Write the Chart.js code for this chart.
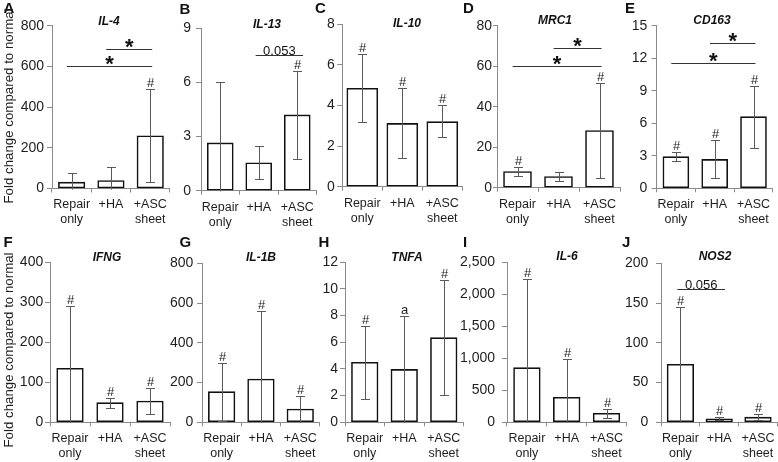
<!DOCTYPE html>
<html><head><meta charset="utf-8">
<script src="https://cdn.jsdelivr.net/npm/chart.js@4.4.1/dist/chart.umd.min.js"></script>
<style>
html,body{margin:0;padding:0;background:#fff;}
#wrap{position:relative;width:778px;height:462px;overflow:hidden;background:#fff;}
#wrap canvas{position:absolute;left:0;top:0;}
</style></head><body><div id="wrap"></div>
<script>
// ---------- data ----------
const categories = [["Repair", "only"], ["+HA"], ["+ASC", "sheet"]];
const yTitle = "Fold change compared to normal";

// A  IL-4
const il4Mean = [31, 39, 259];
const il4Low = [-13, -26, 30];
const il4High = [75, 104, 488];
const il4Marks = ["", "", "#"];
const il4Ticks = [0, 200, 400, 600, 800];
const il4Sig = [[1, 2, 686, "*"], [0, 2, 602, "*"]];

// B  IL-13
const il13Mean = [2.65, 1.55, 4.2];
const il13Low = [-0.7, 0.65, 1.75];
const il13High = [6.0, 2.45, 6.65];
const il13Marks = ["", "", "#"];
const il13Ticks = [0, 3, 6, 9];
const il13Sig = [[1, 2, 7.52, "0.053"]];

// C  IL-10
const il10Mean = [4.84, 3.11, 3.2];
const il10Low = [3.18, 1.4, 2.42];
const il10High = [6.52, 4.87, 4.0];
const il10Marks = ["#", "#", "#"];
const il10Ticks = [0, 2, 4, 6, 8];
const il10Sig = [];

// D  MRC1
const mrc1Mean = [8.0, 5.5, 28.2];
const mrc1Low = [5.8, 3.5, 5.0];
const mrc1High = [10.4, 7.6, 51.5];
const mrc1Marks = ["#", "", "#"];
const mrc1Ticks = [0, 20, 40, 60, 80];
const mrc1Sig = [[1, 2, 69.1, "*"], [0, 2, 60.2, "*"]];

// E  CD163
const cd163Mean = [2.92, 2.67, 6.61];
const cd163Low = [2.55, 0.92, 3.69];
const cd163High = [3.38, 4.46, 9.47];
const cd163Marks = ["#", "#", "#"];
const cd163Ticks = [0, 3, 6, 9, 12, 15];
const cd163Sig = [[1, 2, 13.43, "*"], [0, 2, 11.59, "*"]];

// F  IFNG
const ifngMean = [135, 49, 53];
const ifngLow = [-22, 36, 20];
const ifngHigh = [292, 62, 87];
const ifngMarks = ["#", "#", "#"];
const ifngTicks = [0, 100, 200, 300, 400];
const ifngSig = [];

// G  IL-1B
const il1bMean = [154, 218, 67];
const il1bLow = [8, -125, -2];
const il1bHigh = [300, 562, 132];
const il1bMarks = ["#", "#", "#"];
const il1bTicks = [0, 200, 400, 600, 800];
const il1bSig = [];

// H  TNFA
const tnfaMean = [4.5, 3.97, 6.35];
const tnfaLow = [1.75, -0.03, 2.05];
const tnfaHigh = [7.25, 7.97, 10.7];
const tnfaMarks = ["#", "a", "#"];
const tnfaTicks = [0, 2, 4, 6, 8, 10, 12];
const tnfaSig = [];

// I  IL-6
const il6Mean = [854, 391, 141];
const il6Low = [-526, -202, 68];
const il6High = [2234, 984, 214];
const il6Marks = ["#", "#", "#"];
const il6Ticks = [0, 500, 1000, 1500, 2000, 2500];
const il6Sig = [];

// J  NOS2
const nos2Mean = [73, 4.5, 6.5];
const nos2Low = [-0.5, 3, 3.2];
const nos2High = [145.5, 6.2, 10];
const nos2Marks = ["#", "#", "#"];
const nos2Ticks = [0, 50, 100, 150, 200];
const nos2Sig = [[0, 1, 167.3, "0.056"]];

// ---------- layout (positions / sizes only) ----------
const FONT = "'Liberation Sans', Arial, Helvetica, sans-serif";
const TXT = '#1e1e1e';
const AX = '#8a8a8a';

const panels = [
  {letter: 'A', gene: 'IL-4', mean: il4Mean, low: il4Low, high: il4High, marks: il4Marks, ticks: il4Ticks, sig: il4Sig,
   geo: {L: 52, W: 39.3, T: 25.7, B: 188.5, pad: 3, tl: 5, bar: 26.5, gx: 109, gy: 22, lx: 3.5, ly: 8.5, ty: 106}},
  {letter: 'B', gene: 'IL-13', mean: il13Mean, low: il13Low, high: il13High, marks: il13Marks, ticks: il13Ticks, sig: il13Sig,
   geo: {L: 201, W: 38.5, T: 28.3, B: 190.7, pad: 5, tl: 5, bar: 26, gx: 267, gy: 24.5, lx: 179.5, ly: 9.5}},
  {letter: 'C', gene: 'IL-10', mean: il10Mean, low: il10Low, high: il10High, marks: il10Marks, ticks: il10Ticks, sig: il10Sig,
   geo: {L: 342.3, W: 40, T: 24, B: 186.7, pad: 2.5, tl: 5, bar: 31, gx: 407, gy: 24, lx: 315, ly: 8.5}},
  {letter: 'D', gene: 'MRC1', mean: mrc1Mean, low: mrc1Low, high: mrc1High, marks: mrc1Marks, ticks: mrc1Ticks, sig: mrc1Sig,
   geo: {L: 497, W: 41, T: 25.7, B: 187.7, pad: 1, tl: 4, bar: 28, gx: 555, gy: 20.5, lx: 463, ly: 9}},
  {letter: 'E', gene: 'CD163', mean: cd163Mean, low: cd163Low, high: cd163High, marks: cd163Marks, ticks: cd163Ticks, sig: cd163Sig,
   geo: {L: 656.5, W: 38.8, T: 25.7, B: 188.3, pad: 4.2, tl: 5, bar: 26, gx: 712, gy: 20.5, lx: 625, ly: 8.7}},
  {letter: 'F', gene: 'IFNG', mean: ifngMean, low: ifngLow, high: ifngHigh, marks: ifngMarks, ticks: ifngTicks, sig: ifngSig,
   geo: {L: 50, W: 40, T: 262.3, B: 422.3, pad: 1.8, tl: 5, bar: 26.6, gx: 107, gy: 258, lx: 3.5, ly: 243, ty: 350}},
  {letter: 'G', gene: 'IL-1B', mean: il1bMean, low: il1bLow, high: il1bHigh, marks: il1bMarks, ticks: il1bTicks, sig: il1bSig,
   geo: {L: 202, W: 39.3, T: 263.3, B: 422.3, pad: 3.6, tl: 5, bar: 26.6, gx: 261, gy: 258, lx: 179.5, ly: 243}},
  {letter: 'H', gene: 'TNFA', mean: tnfaMean, low: tnfaLow, high: tnfaHigh, marks: tnfaMarks, ticks: tnfaTicks, sig: tnfaSig,
   geo: {L: 345, W: 39.5, T: 262.3, B: 422.3, pad: 2, tl: 5, bar: 26.6, gx: 407, gy: 258, lx: 318.5, ly: 243}},
  {letter: 'I', gene: 'IL-6', mean: il6Mean, low: il6Low, high: il6High, marks: il6Marks, ticks: il6Ticks, sig: il6Sig,
   geo: {L: 507, W: 39.8, T: 262.3, B: 422.3, pad: 7, tl: 5, bar: 26.7, gx: 567, gy: 257, lx: 463, ly: 243}},
  {letter: 'J', gene: 'NOS2', mean: nos2Mean, low: nos2Low, high: nos2High, marks: nos2Marks, ticks: nos2Ticks, sig: nos2Sig,
   geo: {L: 661, W: 38.8, T: 263.3, B: 422.3, pad: 7.6, tl: 5, bar: 26.6, gx: 715, gy: 257, lx: 622, ly: 243}}
];

function makeChart(p, idx) {
  const g = p.geo;
  const cv = document.createElement('canvas');
  cv.width = 778; cv.height = 462;
  cv.style.width = '778px'; cv.style.height = '462px';
  document.getElementById('wrap').appendChild(cv);
  const xH = 42;
  const R = g.L + 3 * g.W;
  const ymax = p.ticks[p.ticks.length - 1];
  const step = p.ticks[1] - p.ticks[0];

  const annot = {
    id: 'annot' + idx,
    afterDatasetsDraw(chart) {
      const ctx = chart.ctx, xs = chart.scales.x, ys = chart.scales.y;
      ctx.save();
      // error bars + marks
      for (let i = 0; i < p.mean.length; i++) {
        const cx = Math.round(xs.getPixelForValue(i)) + 0.5;
        const yHi = Math.round(ys.getPixelForValue(p.high[i])) + 0.5;
        const yLo = Math.round(ys.getPixelForValue(Math.max(p.low[i], 0))) + 0.5;
        ctx.strokeStyle = '#5a5a5a'; ctx.lineWidth = 1;
        ctx.beginPath();
        ctx.moveTo(cx, yHi); ctx.lineTo(cx, yLo);
        ctx.moveTo(cx - 4.5, yHi); ctx.lineTo(cx + 4.5, yHi);
        if (p.low[i] > 0) { ctx.moveTo(cx - 4.5, yLo); ctx.lineTo(cx + 4.5, yLo); }
        ctx.stroke();
        if (p.marks[i]) {
          ctx.fillStyle = TXT;
          ctx.font = '13px ' + FONT;
          ctx.textAlign = 'center'; ctx.textBaseline = 'alphabetic';
          ctx.fillText(p.marks[i], cx, yHi - 2.5);
        }
      }
      // significance lines
      p.sig.forEach(s => {
        const i = s[0], j = s[1], val = s[2], label = s[3];
        const star = label === '*';
        const x1 = xs.getPixelForValue(i) - (star ? 0.12 : 0.08) * g.W;
        const x2 = xs.getPixelForValue(j) + (star ? 0.05 : 0.15) * g.W;
        const yy = Math.round(ys.getPixelForValue(val)) + 0.5;
        ctx.strokeStyle = '#333'; ctx.lineWidth = 1;
        ctx.beginPath(); ctx.moveTo(x1, yy); ctx.lineTo(x2, yy); ctx.stroke();
        ctx.fillStyle = '#111';
        ctx.textAlign = 'center'; ctx.textBaseline = 'alphabetic';
        if (star) {
          ctx.font = 'bold 22px ' + FONT;
          ctx.fillText('*', (x1 + x2) / 2, yy + 4.5);
        } else {
          ctx.font = '13px ' + FONT;
          ctx.fillText(label, (x1 + x2) / 2, yy - 1);
        }
      });
      // gene title
      ctx.fillStyle = '#111';
      ctx.font = 'italic bold 12px ' + FONT;
      ctx.textAlign = 'center'; ctx.textBaseline = 'middle';
      ctx.fillText(p.gene, g.gx, g.gy);
      // panel letter
      ctx.font = 'bold 15px ' + FONT;
      ctx.textAlign = 'left';
      ctx.fillText(p.letter, g.lx, g.ly);
      // y-axis title (first column only)
      if (g.ty) {
        ctx.save();
        ctx.translate(9, g.ty);
        ctx.rotate(-Math.PI / 2);
        ctx.fillStyle = TXT;
        ctx.font = '13.3px ' + FONT;
        ctx.textAlign = 'center'; ctx.textBaseline = 'middle';
        ctx.fillText(yTitle, 0, 0);
        ctx.restore();
      }
      ctx.restore();
    }
  };

  return new Chart(cv, {
    type: 'bar',
    data: {
      labels: categories,
      datasets: [{
        data: p.mean,
        backgroundColor: '#ffffff',
        borderColor: '#111111',
        borderWidth: 1.6,
        borderSkipped: false,
        barThickness: g.bar
      }]
    },
    options: {
      responsive: false,
      animation: false,
      devicePixelRatio: 1,
      events: [],
      layout: {padding: {left: 0, top: g.T, right: 778 - R, bottom: 462 - g.B - xH}},
      plugins: {legend: {display: false}, tooltip: {enabled: false}, title: {display: false}},
      scales: {
        x: {
          type: 'category',
          offset: true,
          grid: {display: true, drawOnChartArea: false, drawTicks: true, tickLength: 4, color: AX, offset: true},
          border: {display: true, color: AX, width: 1},
          ticks: {color: TXT, font: {family: FONT, size: 12.5, lineHeight: 1.2}, padding: 5, maxRotation: 0, minRotation: 0, autoSkip: false},
          afterFit(s) { s.height = xH; s.paddingLeft = 0; s.paddingRight = 0; }
        },
        y: {
          min: 0, max: ymax,
          ticks: {stepSize: step, color: TXT, font: {family: FONT, size: 14}, padding: g.pad,
                  callback: v => Number(v).toLocaleString('en-US')},
          grid: {display: true, drawOnChartArea: false, drawTicks: true, tickLength: g.tl, color: AX},
          border: {display: true, color: AX, width: 1},
          title: {display: false},
          afterFit(s) { s.width = g.L; s.paddingTop = 0; s.paddingBottom = 0; }
        }
      }
    },
    plugins: [annot]
  });
}

panels.forEach((p, i) => makeChart(p, i));
</script>
</body></html>
